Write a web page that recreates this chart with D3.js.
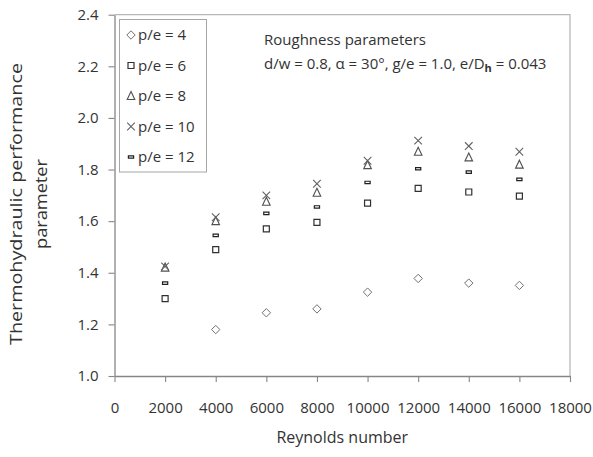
<!DOCTYPE html>
<html>
<head>
<meta charset="utf-8">
<script src="https://cdn.jsdelivr.net/npm/d3@7"></script>
<style>
body { margin: 0; background: #fff; }
text { font-family: "Open Sans", sans-serif; fill: #333; }
</style>
</head>
<body>
<div id="chart"></div>
<script>
// data
var reynolds = [2000, 4000, 6000, 8000, 10000, 12000, 14000, 16000];
var reynoldsPe4 = [4000, 6000, 8000, 10000, 12000, 14000, 16000];
var pe4 = [1.18, 1.245, 1.26, 1.325, 1.378, 1.36, 1.351];
var pe6 = [1.30, 1.49, 1.57, 1.595, 1.67, 1.727, 1.713, 1.697];
var pe8 = [1.42, 1.60, 1.675, 1.71, 1.817, 1.869, 1.847, 1.819];
var pe10 = [1.425, 1.615, 1.70, 1.745, 1.834, 1.912, 1.891, 1.869];
var pe12 = [1.36, 1.545, 1.63, 1.655, 1.75, 1.803, 1.79, 1.762];
var seriesNames = ["p/e = 4", "p/e = 6", "p/e = 8", "p/e = 10", "p/e = 12"];
var xTicks = [0, 2000, 4000, 6000, 8000, 10000, 12000, 14000, 16000, 18000];
var yTicks = [1.0, 1.2, 1.4, 1.6, 1.8, 2.0, 2.2, 2.4];

var W = 593, H = 457;
var margin = {top: 14.7, right: 23, bottom: 81, left: 114.5};

var svg = d3.select("#chart").append("svg")
    .attr("width", W)
    .attr("height", H);

var x = d3.scaleLinear().domain([0, 18000]).range([margin.left, W - margin.right]);
var y = d3.scaleLinear().domain([1.0, 2.4]).range([H - margin.bottom, margin.top]);

// marker shapes, drawn as outlines
var diamond = {draw: function(c, s) { var r = 4.2; c.moveTo(0, -r); c.lineTo(r, 0); c.lineTo(0, r); c.lineTo(-r, 0); c.closePath(); }};
var square = {draw: function(c, s) { c.rect(-3, -3, 6, 6); }};
var triangle = {draw: function(c, s) { c.moveTo(0, -4.5); c.lineTo(3.8, 3.5); c.lineTo(-3.8, 3.5); c.closePath(); }};
var cross = {draw: function(c, s) { var r = 3.8; c.moveTo(-r, -r); c.lineTo(r, r); c.moveTo(r, -r); c.lineTo(-r, r); }};
var dash = {draw: function(c, s) { c.rect(-2.6, -1.2, 5.2, 2.4); }};

var series = [
  {name: seriesNames[0], re: reynoldsPe4, v: pe4, sym: diamond, col: "#707070", w: 1},
  {name: seriesNames[1], re: reynolds, v: pe6, sym: square, col: "#303030", w: 1.2},
  {name: seriesNames[2], re: reynolds, v: pe8, sym: triangle, col: "#505050", w: 1.1},
  {name: seriesNames[3], re: reynolds, v: pe10, sym: cross, col: "#606060", w: 1.1},
  {name: seriesNames[4], re: reynolds, v: pe12, sym: dash, col: "#202020", w: 1.2}
];

// plot border (top / right)
svg.append("path")
    .attr("d", "M" + x(0) + "," + y(2.4) + "H" + x(18000) + "V" + y(1.0))
    .attr("fill", "none")
    .attr("stroke", "#b8b8b8")
    .attr("stroke-width", 1.3);

// axes
var yAxis = svg.append("g")
    .attr("transform", "translate(" + x(0) + ",0)")
    .call(d3.axisLeft(y).tickValues(yTicks).tickFormat(d3.format(".1f")).tickSize(6).tickSizeOuter(0).tickPadding(10));
var xAxis = svg.append("g")
    .attr("transform", "translate(0," + y(1.0) + ")")
    .call(d3.axisBottom(x).tickValues(xTicks).tickFormat(d3.format("d")).tickSize(6).tickSizeOuter(0).tickPadding(20));
[xAxis, yAxis].forEach(function(a) {
  a.select(".domain").attr("stroke", "#868686").attr("stroke-width", 1.3);
  a.selectAll(".tick line").attr("stroke", "#868686").attr("stroke-width", 1.1);
  a.selectAll(".tick text").style("font-size", "15px").style("font-family", "'Open Sans', sans-serif").attr("fill", "#333");
});

// axis titles
svg.append("text")
    .attr("x", x(9000))
    .attr("y", 443)
    .attr("text-anchor", "middle")
    .style("font-size", "16px")
    .text("Reynolds number");

var yt = svg.append("text")
    .attr("transform", "translate(22,204) rotate(-90)")
    .attr("text-anchor", "middle")
    .style("font-size", "16px");
yt.append("tspan").attr("x", 0).attr("y", 0)
    .attr("textLength", 282).attr("lengthAdjust", "spacingAndGlyphs")
    .text("Thermohydraulic  performance");
yt.append("tspan").attr("x", 0).attr("y", 25)
    .attr("textLength", 90).attr("lengthAdjust", "spacingAndGlyphs")
    .text("parameter");

// points
series.forEach(function(s) {
  svg.append("g").selectAll("path")
    .data(s.v)
    .enter().append("path")
      .attr("transform", function(d, i) { return "translate(" + x(s.re[i]) + "," + y(d) + ")"; })
      .attr("d", d3.symbol().type(s.sym))
      .attr("fill", "none")
      .attr("stroke", s.col)
      .attr("stroke-width", s.w);
});

// legend
var lg = svg.append("g");
lg.append("rect")
    .attr("x", 119.5).attr("y", 19.5)
    .attr("width", 87).attr("height", 152.5)
    .attr("fill", "#fff")
    .attr("stroke", "#a6a6a6");
series.forEach(function(s, i) {
  var cy = 35 + i * 30.5;
  lg.append("path")
      .attr("transform", "translate(131," + cy + ")")
      .attr("d", d3.symbol().type(s.sym))
      .attr("fill", "none")
      .attr("stroke", s.col)
      .attr("stroke-width", s.w);
  lg.append("text")
      .attr("x", 138)
      .attr("y", cy)
      .attr("dy", "0.35em")
      .style("font-size", "15px")
      .text(s.name);
});

// roughness annotation
svg.append("text")
    .attr("x", 264).attr("y", 45)
    .style("font-size", "15px")
    .text("Roughness parameters");
var ann = svg.append("text")
    .attr("x", 264).attr("y", 69)
    .style("font-size", "15px");
ann.append("tspan").text("d/w = 0.8, \u03b1 = 30\u00b0, g/e = 1.0, e/D");
ann.append("tspan").attr("dy", 3).style("font-size", "11px").style("font-weight", "bold").text("h");
ann.append("tspan").attr("dy", -3).text(" = 0.043");
</script>
</body>
</html>
